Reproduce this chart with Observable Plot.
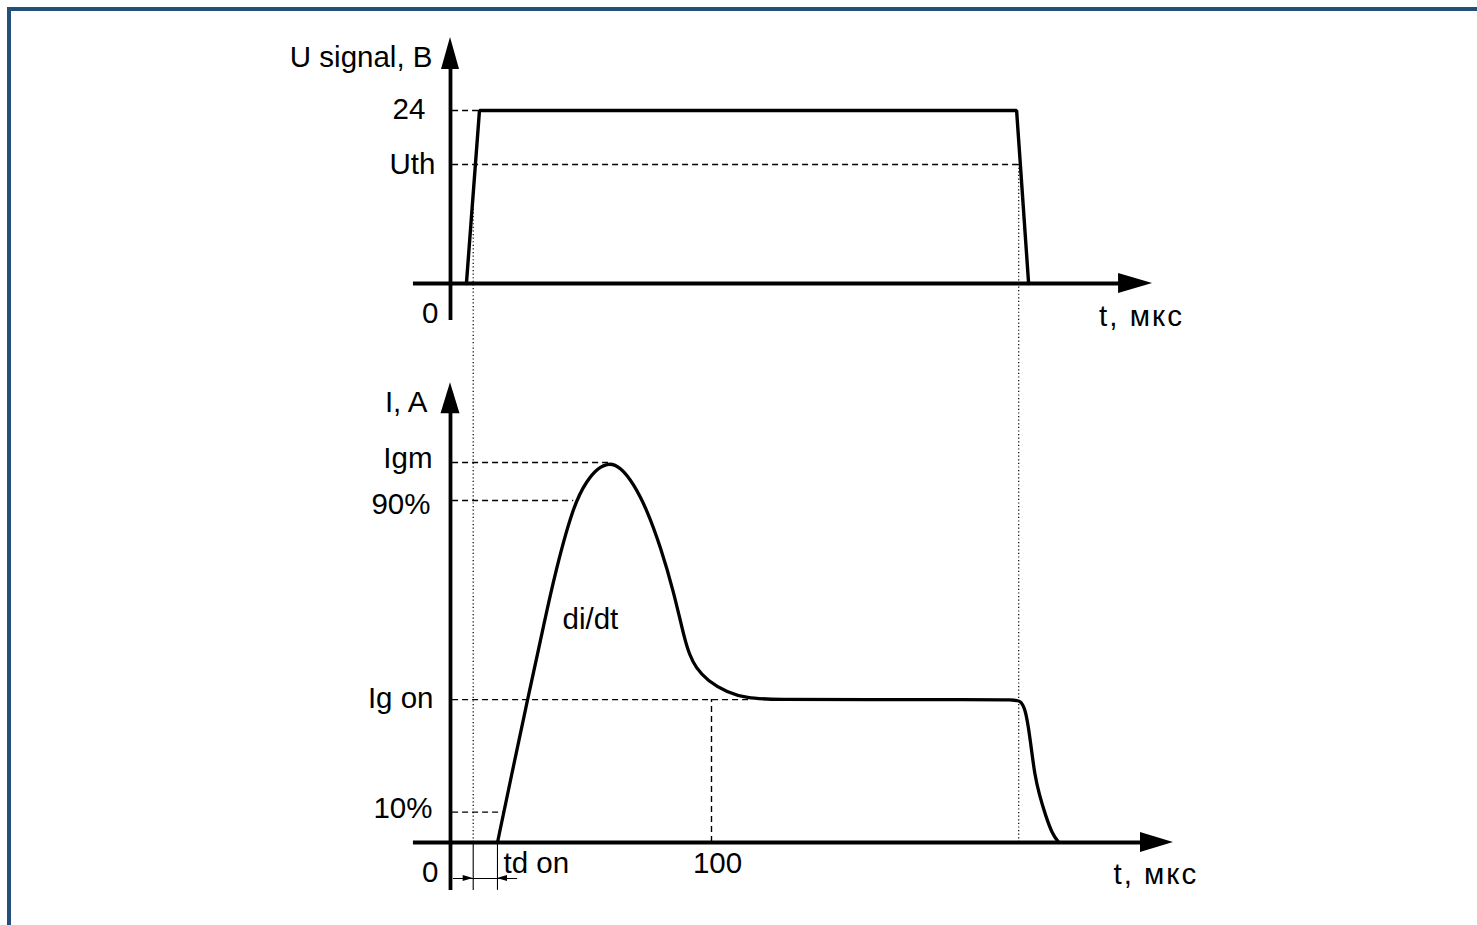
<!DOCTYPE html>
<html><head><meta charset="utf-8">
<script src="https://cdn.jsdelivr.net/npm/d3@7"></script>
<script src="https://cdn.jsdelivr.net/npm/@observablehq/plot@0.6"></script>
<style>
html,body{margin:0;padding:0;background:#fff;overflow:hidden;}
#wrap{position:relative;width:1477px;height:925px;overflow:hidden;background:#fff;}
#frame{position:absolute;left:7px;top:7px;width:2000px;height:2000px;border-left:4px solid #23507b;border-top:4px solid #23507b;pointer-events:none;}
#top{position:absolute;left:0;top:0;}
#bot{position:absolute;left:0;top:345px;}
</style></head><body>
<div id="wrap"><div id="top"></div><div id="bot"></div><div id="frame"></div></div>
<script>
// ---- data (time in μs; top panel volts; bottom panel current in relative units, Igm = 10) ----
const signalT = [6.1, 11.1, 216.9, 221.5];
const signalU = [0, 24, 24, 0];
const Uth = 16.5;
const Umax = 24;

const currentT = [18.0, 23.75, 29.5, 34.5, 39.3, 47.2, 52.4, 56.2, 60.7, 65.1, 70.1, 75.4, 80.5, 85.4, 89.5, 91.5, 94.0, 98.4, 106.0, 113.7, 122.6, 160, 200, 216.5, 218.6, 220.2, 221.4, 222.6, 223.8, 225.6, 228.0, 230.5, 233.1];
const currentI = [0, 1.89, 3.76, 5.32, 6.89, 8.92, 9.53, 9.84, 10.0, 9.88, 9.45, 8.74, 7.77, 6.63, 5.40, 4.95, 4.60, 4.26, 3.95, 3.80, 3.76, 3.76, 3.76, 3.76, 3.72, 3.50, 3.05, 2.45, 1.80, 1.25, 0.71, 0.23, 0];

const Igm = 10, I90 = 9, IgOn = 3.76, I10 = 0.8;
const tOn = 8.7, tOff = 217.7, tStart = 18.0;
const tPeak = 60.7, t90 = 47.2, tFlat = 115, t10 = 20.3, tMark = 100;

const topLabels = ["U signal, B", "24", "Uth", "0"];
const topLabelY = [31.35, 24.1, Uth, -4.1];
const topLabelX = [-6.9, -9.6, -5.75, -4.6];

const botLabels = ["I, A", "Igm", "90%", "Ig on", "10%", "0"];
const botLabelY = [11.58, 10.1, 8.9, 3.8, 0.9, -0.78];
const botLabelX = [-8.8, -6.9, -7.66, -6.5, -6.9, -4.6];

const axisTitle = "t, мкс";
const tickLabel = "100";
const tdLabel = "td on";
const slopeLabel = "di/dt";

// ---- layout ----
const W = 1477;
const xDomain = [-450 / 2.61, (W - 450) / 2.61];
const topH = 345, botH = 580;
const topYDomain = [(283 - topH) / 7.208, 283 / 7.208];
const botYDomain = [(497 - botH) / 38, 497 / 38];
const FONT = "Liberation Sans, Arial, Helvetica, sans-serif";
const FS = 29.5;
const dash = "6,4";
const dot = "1.2,2.4";

function scaleFn(chart, name) {
  const s = chart.scale(name);
  if (s && typeof s.apply === "function") return v => s.apply(v);
  const d = d3.scaleLinear(s.domain, s.range);
  return v => d(v);
}
function arrowHead(svg, sx, sy, xv, yv, dir, len, half) {
  const x = sx(xv), y = sy(yv);
  let p;
  if (dir === "up") p = [[x, y], [x - half, y + len], [x + half, y + len]];
  else if (dir === "right") p = [[x, y], [x - len, y - half], [x - len, y + half]];
  else p = [[x, y], [x + len, y - half], [x + len, y + half]];
  d3.select(svg).append("path").attr("d", "M" + p.map(q => q.join(",")).join("L") + "Z").attr("fill", "#000");
}
function spaceTitle(svg) {
  d3.select(svg).selectAll("text").filter(function () { return this.textContent === axisTitle; }).attr("letter-spacing", "2px");
}

// ---- top panel ----
const sig = signalT.map((t, i) => ({t, u: signalU[i]}));
const topDashed = [{y: Umax, x2: signalT[1]}, {y: Uth, x2: 218.3}];
const topDotted = [{x: tOn, y1: 12.3, y2: topYDomain[0]}, {x: tOff, y1: Uth, y2: topYDomain[0]}];
const topText = topLabels.map((s, i) => ({s, x: topLabelX[i], y: topLabelY[i]}));

const topChart = Plot.plot({
  width: W, height: topH, margin: 0,
  style: {background: "none", fontFamily: FONT},
  x: {domain: xDomain, axis: null},
  y: {domain: topYDomain, axis: null},
  marks: [
    Plot.ruleY(topDashed, {y: "y", x1: () => 0.8, x2: "x2", stroke: "#000", strokeWidth: 1.4, strokeDasharray: dash}),
    Plot.ruleX(topDotted, {x: "x", y1: "y1", y2: "y2", stroke: "#000", strokeWidth: 1.2, strokeDasharray: dot}),
    Plot.line(sig, {x: "t", y: "u", stroke: "#000", strokeWidth: 3.4, strokeLinejoin: "miter"}),
    Plot.ruleY([{y: 0, x1: -14.2, x2: 262}], {y: "y", x1: "x1", x2: "x2", stroke: "#000", strokeWidth: 3.8}),
    Plot.ruleX([{x: 0, y1: -5.13, y2: 30.5}], {x: "x", y1: "y1", y2: "y2", stroke: "#000", strokeWidth: 3.8}),
    Plot.text(topText, {x: "x", y: "y", text: "s", textAnchor: "end", fontSize: FS, fontFamily: FONT, fill: "#000"}),
    Plot.text([{s: axisTitle, x: 248.5, y: -4.58}], {x: "x", y: "y", text: "s", textAnchor: "start", fontSize: FS, fontFamily: FONT, fill: "#000"})
  ]
});
document.getElementById("top").appendChild(topChart);
{
  const sx = scaleFn(topChart, "x"), sy = scaleFn(topChart, "y");
  arrowHead(topChart, sx, sy, 0, 34.13, "up", 32, 9);
  arrowHead(topChart, sx, sy, 269, 0, "right", 34, 10);
  spaceTitle(topChart);
}

// ---- bottom panel ----
const cur = currentT.map((t, i) => ({t, i: currentI[i]}));
const botDashed = [{y: Igm, x2: tPeak}, {y: I90, x2: t90}, {y: IgOn, x2: tFlat}, {y: I10, x2: t10}];
const botDotted = [{x: tOn, y1: 0, y2: botYDomain[1]}, {x: tOff, y1: 0, y2: botYDomain[1]}];
const extLines = [{x: tOn, y1: 0, y2: -1.26}, {x: tStart, y1: 0, y2: -1.26}];
const botText = botLabels.map((s, i) => ({s, x: botLabelX[i], y: botLabelY[i]}));
const dimY = -0.947;

const botChart = Plot.plot({
  width: W, height: botH, margin: 0,
  style: {background: "none", fontFamily: FONT},
  x: {domain: xDomain, axis: null},
  y: {domain: botYDomain, axis: null},
  marks: [
    Plot.ruleY(botDashed, {y: "y", x1: () => 0.8, x2: "x2", stroke: "#000", strokeWidth: 1.4, strokeDasharray: dash}),
    Plot.ruleX([{x: tMark, y1: 0, y2: IgOn}], {x: "x", y1: "y1", y2: "y2", stroke: "#000", strokeWidth: 1.4, strokeDasharray: dash}),
    Plot.ruleX(botDotted, {x: "x", y1: "y1", y2: "y2", stroke: "#000", strokeWidth: 1.2, strokeDasharray: dot}),
    Plot.ruleX(extLines, {x: "x", y1: "y1", y2: "y2", stroke: "#000", strokeWidth: 1.1}),
    Plot.ruleY([{y: dimY, x1: 1.15, x2: 25.7}], {y: "y", x1: "x1", x2: "x2", stroke: "#000", strokeWidth: 1.1}),
    Plot.line(cur, {x: "t", y: "i", stroke: "#000", strokeWidth: 3.3, curve: "basis"}),
    Plot.ruleY([{y: 0, x1: -14.2, x2: 270}], {y: "y", x1: "x1", x2: "x2", stroke: "#000", strokeWidth: 3.8}),
    Plot.ruleX([{x: 0, y1: -1.26, y2: 11.6}], {x: "x", y1: "y1", y2: "y2", stroke: "#000", strokeWidth: 3.8}),
    Plot.text(botText, {x: "x", y: "y", text: "s", textAnchor: "end", fontSize: FS, fontFamily: FONT, fill: "#000"}),
    Plot.text([{s: axisTitle, x: 254, y: -0.84}, {s: tdLabel, x: 20.3, y: -0.55}], {x: "x", y: "y", text: "s", textAnchor: "start", fontSize: FS, fontFamily: FONT, fill: "#000"}),
    Plot.text([{s: tickLabel, x: 102.3, y: -0.55}, {s: slopeLabel, x: 53.6, y: 5.87}], {x: "x", y: "y", text: "s", textAnchor: "middle", fontSize: FS, fontFamily: FONT, fill: "#000"})
  ]
});
document.getElementById("bot").appendChild(botChart);
{
  const sx = scaleFn(botChart, "x"), sy = scaleFn(botChart, "y");
  arrowHead(botChart, sx, sy, 0, 12.1, "up", 31, 9.5);
  arrowHead(botChart, sx, sy, 277, 0, "right", 33, 10);
  arrowHead(botChart, sx, sy, tOn, dimY, "right", 10, 3);
  arrowHead(botChart, sx, sy, tStart, dimY, "left", 10, 3);
  spaceTitle(botChart);
}
</script>
</body></html>
